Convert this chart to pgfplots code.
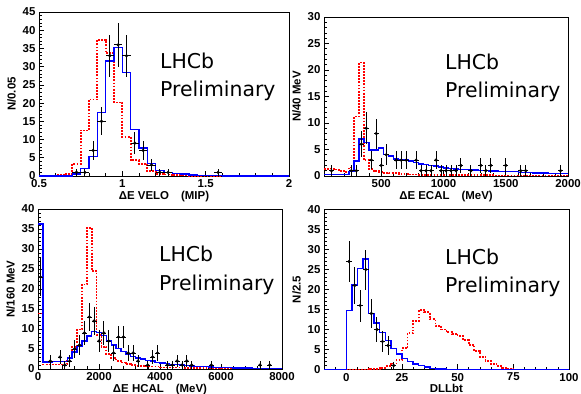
\documentclass[border=0pt]{standalone}
\usepackage{fontspec}
\setmainfont{Liberation Sans}
\newfontfamily\lhcbfont{DejaVu Sans}
\usepackage{pgfplots}
\pgfplotsset{compat=1.18}
\definecolor{rred}{RGB}{255,0,0}
\definecolor{rblue}{RGB}{0,0,255}
\pgfplotsset{
 rootax/.style={
  scale only axis, anchor=south west,
  axis line style={black, line width=0.8bp},
  tick pos=left, tick align=inside,
  major tick length=5bp, minor tick length=2.5bp,
  every tick/.style={black, line width=0.6bp},
  tick label style={font=\fontsize{11.5}{12}\selectfont\bfseries},
  label style={font=\fontsize{11.5}{12}\selectfont\bfseries},
  xlabel style={yshift=3.5bp},
  /pgf/number format/assume math mode=true,
  /pgf/number format/1000 sep={},
  scaled ticks=false,
  ymin=0, clip=false,
 },
 mc/.style={const plot, draw=rblue, line width=1.4bp},
 mcr/.style={const plot, draw=rred, dash pattern=on 1.8bp off 1.3bp, line width=1.7bp},
 dat/.style={only marks, mark=*, mark size=1.4bp, black,
   error bars/.cd, y dir=both, y explicit, x dir=both, x fixed=#1,
   error mark=none, error bar style={line width=0.9bp, black}},
}
\newcommand{\lhcb}[2]{%
  \node[anchor=base west, inner sep=0pt, font=\lhcbfont\fontsize{20.5}{24}\selectfont] at (#1bp,#2bp) {LHCb};
  \node[anchor=base west, inner sep=0pt, font=\lhcbfont\fontsize{20.5}{24}\selectfont] at (#1bp,#2bp-28.3bp) {Preliminary};}
\begin{document}
\begin{tikzpicture}
\path[use as bounding box] (0,0) rectangle (581bp,394bp);
% ---------- Panel 1: VELO
\begin{axis}[rootax, at={(39bp,218bp)}, width=250bp, height=164bp,
  xmin=0.5, xmax=2, ymax=45,
  xtick={0.5,1,1.5,2}, minor x tick num=4,
  ytick={0,5,...,45}, minor y tick num=4,
  xlabel={ΔE VELO\hspace{12bp}(MIP)}, ylabel={N/0.05}]
\addplot[mcr] coordinates {(0.5,0) (0.6,0.2) (0.65,0.6) (0.7,3.3) (0.75,12.5) (0.8,21) (0.85,37.4) (0.9,33.7) (0.95,20.2) (1.0,10.7) (1.05,4.3) (1.1,3.2) (1.15,1.3) (1.2,0.6) (1.25,0.4) (1.3,0.2) (1.35,0.1) (1.4,0) (2.0,0)};
\addplot[mc] coordinates {(0.5,0) (0.7,0.5) (0.75,2.0) (0.8,5.3) (0.85,17.4) (0.9,31.6) (0.95,35.2) (1.0,28.4) (1.05,12.8) (1.1,7.7) (1.15,3.5) (1.2,1.5) (1.25,1.0) (1.3,0.7) (1.35,0.5) (1.4,0.3) (1.45,0.2) (1.5,0.15) (1.55,0.1) (1.6,0) (2.0,0)};
\addplot[dat=0.025] table[row sep=\\, x=x, y=y, y error expr={sqrt(\thisrow{y})}] {
x y\\ 0.725 1\\ 0.775 1\\ 0.825 7\\ 0.875 15\\ 0.925 33\\ 0.975 36\\ 1.025 33\\ 1.075 9\\ 1.125 7\\ 1.175 3\\ 1.225 1\\ 1.275 1\\ 1.575 1\\
};
\end{axis}
% ---------- Panel 2: ECAL
\begin{axis}[rootax, at={(324bp,218bp)}, width=244bp, height=159bp,
  xmin=40, xmax=2000, ymax=30,
  xtick={500,1000,1500,2000}, minor xtick={100,200,...,1900},
  ytick={0,5,...,30}, minor y tick num=4,
  xlabel={ΔE ECAL\hspace{12bp}(MeV)}, ylabel={N/40 MeV}]
\addplot[mcr] coordinates {(40,1.3) (80,1.4) (120,1.2) (160,1.0) (200,0.8) (240,1.6) (280,11.2) (320,21.4) (360,3.0) (400,1.3) (440,0.9) (480,0.8) (520,0.6) (560,0.5) (640,0.4) (720,0.3) (800,0.2) (1000,0.15) (1400,0.1) (2000,0.1)};
\addplot[mc] coordinates {(40,0.3) (240,0.9) (280,2.8) (320,7.0) (360,6.3) (400,4.9) (440,4.9) (480,5.3) (520,4.1) (560,3.8) (600,3.2) (640,3.1) (680,3.0) (720,2.8) (760,2.6) (800,2.3) (840,2.2) (880,2.0) (920,1.9) (960,1.7) (1000,1.5) (1040,1.4) (1080,1.3) (1120,1.25) (1200,1.15) (1280,1.05) (1360,0.95) (1440,0.85) (1520,0.8) (1600,0.7) (1720,0.6) (1840,0.5) (1960,0.45) (2000,0.45)};
\addplot[dat=20] table[row sep=\\, x=x, y=y, y error expr={sqrt(\thisrow{y})}] {
x y\\ 100 1\\ 260 1\\ 300 1\\ 340 6\\ 380 9\\ 420 3\\ 460 8\\ 500 2\\ 540 4\\ 620 3\\ 660 3\\ 700 3\\ 780 3\\ 820 1\\ 860 1\\ 900 1\\ 940 3\\ 980 1\\ 1020 1\\ 1060 1\\ 1100 1\\ 1140 2\\ 1220 1\\ 1300 2\\ 1340 1\\ 1380 2\\ 1500 2\\ 1620 1\\ 1660 1\\ 1940 1\\
};
\end{axis}
% ---------- Panel 3: HCAL
\begin{axis}[rootax, at={(38bp,25bp)}, width=244bp, height=160bp,
  xmin=0, xmax=8000, ymax=40,
  xtick={0,2000,...,8000}, minor x tick num=4,
  ytick={0,5,...,40}, minor y tick num=4,
  xlabel={ΔE HCAL\hspace{12bp}(MeV)}, ylabel={N/160 MeV}]
\addplot[mcr] coordinates {(0,13.9) (160,1.1) (800,1.3) (960,2.6) (1120,5.5) (1280,9.9) (1440,21.1) (1600,35.3) (1760,24.5) (1920,8.5) (2080,5.5) (2240,3.8) (2400,2.8) (2560,2.0) (2720,1.6) (2880,1.3) (3040,1.0) (3200,0.8) (3520,0.6) (4000,0.4) (4800,0.2) (6000,0.1) (8000,0.1)};
\addplot[mc] coordinates {(0,36.3) (160,1.8) (480,1.9) (960,2.8) (1120,4.3) (1280,5.6) (1440,7.0) (1600,8.3) (1760,9.4) (1920,9.1) (2080,8.4) (2240,7.0) (2400,6.0) (2560,5.2) (2720,4.4) (2880,3.8) (3040,3.2) (3200,2.8) (3360,2.5) (3520,2.2) (3680,2.0) (3840,1.7) (4000,1.5) (4160,1.4) (4320,1.2) (4480,1.1) (4640,1.0) (4800,0.9) (4960,0.8) (5120,0.7) (5280,0.65) (5440,0.6) (5600,0.5) (5760,0.45) (5920,0.4) (6080,0.35) (6400,0.3) (6720,0.25) (7040,0.2) (7680,0.15) (8000,0.15)};
\addplot[dat=80] table[row sep=\\, x=x, y=y, y error expr={sqrt(\thisrow{y})}] {
x y\\ 80 23\\ 400 2\\ 720 3\\ 880 1\\ 1040 2\\ 1200 5\\ 1360 6\\ 1520 9\\ 1680 13\\ 1840 12\\ 2000 7\\ 2160 9\\ 2320 7\\ 2480 4\\ 2640 8\\ 2800 8\\ 2960 4\\ 3120 4\\ 3280 2\\ 3600 1\\ 3760 3\\ 3920 4\\ 4240 1\\ 4400 1\\ 4560 2\\ 4720 1\\ 4880 2\\ 5040 1\\ 5680 1\\ 7280 1\\ 7600 1\\
};
\end{axis}
% ---------- Panel 4: DLL
\begin{axis}[rootax, at={(324bp,24.5bp)}, width=245bp, height=160bp,
  xmin=-10, xmax=100, ymax=40,
  xtick={0,25,50,75,100}, minor xtick={-10,-5,...,100},
  ytick={0,5,...,40}, minor y tick num=4,
  xlabel={DLLbt}, ylabel={N/2.5}]
\addplot[mcr] coordinates {(-10,0) (10,0.1) (12.5,0.2) (15,0.4) (17.5,0.8) (20,1.5) (22.5,2.3) (25,5.3) (27.5,9.1) (30,12.2) (32.5,14.8) (35,14.3) (37.5,12.6) (40,10.8) (42.5,10.0) (45,9.3) (47.5,8.9) (50,8.3) (52.5,7.3) (55,6.2) (57.5,4.6) (60,3.2) (62.5,2.1) (65,1.4) (67.5,0.8) (70,0.4) (72.5,0.1) (75,0) (100,0)};
\addplot[mc] coordinates {(-10,0) (0,14.8) (2.5,21.1) (5,25.3) (7.5,27.6) (10,14.0) (12.5,11.6) (15,9.2) (17.5,7.2) (20,5.2) (22.5,3.9) (25,2.8) (27.5,2.0) (30,1.4) (32.5,1.0) (35,0.6) (37.5,0.3) (40,0.1) (45,0) (100,0)};
\addplot[dat=1.25] table[row sep=\\, x=x, y=y, y error expr={sqrt(\thisrow{y})}] {
x y\\ 1.25 27\\ 3.75 21\\ 6.25 16\\ 8.75 25\\ 11.25 14\\ 13.75 10\\ 16.25 7\\ 18.75 6\\ 21.25 1\\
};
\end{axis}
\lhcb{160}{325.7}
\lhcb{445}{324.7}
\lhcb{159}{132}
\lhcb{445}{129.7}
\end{tikzpicture}
\end{document}
